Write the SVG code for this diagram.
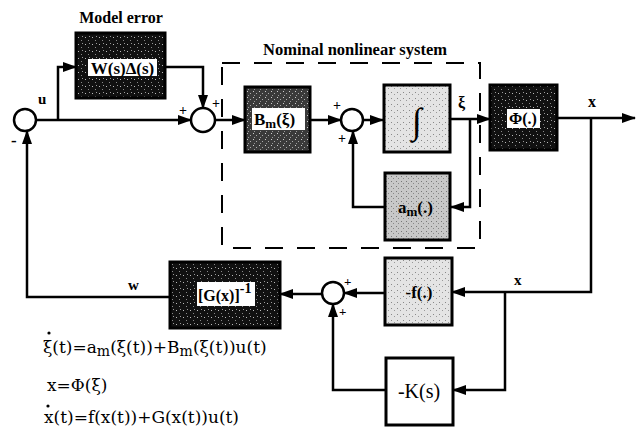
<svg xmlns="http://www.w3.org/2000/svg" width="639" height="432" viewBox="0 0 639 432">
<style>
.ln{fill:none;stroke:#000;stroke-width:2.5}
.sum{fill:#fff;stroke:#000;stroke-width:2.5}
.box{stroke:#000;stroke-width:3}
.lbl{font-family:"Liberation Serif",serif;font-weight:bold;fill:#000}
.eq{font-family:"DejaVu Serif",serif;font-size:17px;fill:#000}
.dash{fill:none;stroke:#000;stroke-width:2;stroke-dasharray:18 14}
.wb{fill:#fff}
</style>
<defs>
<marker id="ah" markerWidth="14" markerHeight="10" refX="13" refY="5" orient="auto" markerUnits="userSpaceOnUse">
<path d="M0,0 L14,5 L0,10 Z" fill="#000"/>
</marker>
<pattern id="dark" width="7" height="7" patternUnits="userSpaceOnUse">
<rect width="7" height="7" fill="#111"/>
<rect x="1" y="2" width="1" height="1" fill="#bbb"/>
<rect x="4" y="5" width="1" height="1" fill="#888"/>
<rect x="5" y="1" width="1" height="1" fill="#999"/>
</pattern>
<pattern id="mid" width="6" height="6" patternUnits="userSpaceOnUse">
<rect width="6" height="6" fill="#3a3a3a"/>
<rect x="1" y="1" width="1" height="1" fill="#ccc"/>
<rect x="4" y="3" width="1" height="1" fill="#aaa"/>
<rect x="2" y="5" width="1" height="1" fill="#999"/>
</pattern>
<pattern id="gray" width="5" height="5" patternUnits="userSpaceOnUse">
<rect width="5" height="5" fill="#c8c8c8"/>
<rect x="1" y="1" width="1" height="1" fill="#777"/>
<rect x="3" y="3" width="1" height="1" fill="#888"/>
</pattern>
<pattern id="light" width="6" height="6" patternUnits="userSpaceOnUse">
<rect width="6" height="6" fill="#e4e4e4"/>
<rect x="1" y="2" width="1" height="1" fill="#888"/>
<rect x="4" y="4" width="1" height="1" fill="#999"/>
</pattern>
</defs>
<rect width="639" height="432" fill="#fff"/>

<g id="connectors">
<path class="ln" d="M36,120 H191" marker-end="url(#ah)"/>
<path class="ln" d="M58,120 V67 H76" marker-end="url(#ah)"/>
<path class="ln" d="M165,67 H203 V108" marker-end="url(#ah)"/>
<path class="ln" d="M215,120 H245" marker-end="url(#ah)"/>
<path class="ln" d="M310,120 H341" marker-end="url(#ah)"/>
<path class="ln" d="M363,120 H383" marker-end="url(#ah)"/>
<path class="ln" d="M450,119 H490" marker-end="url(#ah)"/>
<path class="ln" d="M470,119 V207 H451" marker-end="url(#ah)"/>
<path class="ln" d="M385,207 H353 V131" marker-end="url(#ah)"/>
<path class="ln" d="M557,118 H635" marker-end="url(#ah)"/>
<path class="ln" d="M591,118 V292 H452" marker-end="url(#ah)"/>
<path class="ln" d="M505,292 V390 H453" marker-end="url(#ah)"/>
<path class="ln" d="M385,293 H344" marker-end="url(#ah)"/>
<path class="ln" d="M386,390 H333 V304" marker-end="url(#ah)"/>
<path class="ln" d="M322,294 H280" marker-end="url(#ah)"/>
<path class="ln" d="M170,297 H27 V131" marker-end="url(#ah)"/>
</g>

<g id="nominal-system">
<rect class="dash" x="222" y="63" width="258" height="185"/>
<text class="lbl" x="355" y="55" font-size="16.5" text-anchor="middle">Nominal nonlinear system</text>
</g>

<g id="sum1">
<circle class="sum" cx="25" cy="120" r="11"/>
<text class="lbl" x="38" y="104" font-size="15">u</text>
<text class="lbl" x="11" y="146" font-size="17">-</text>
</g>

<g id="model-error">
<text class="lbl" x="121" y="23" font-size="16" text-anchor="middle">Model error</text>
<rect class="box" x="76" y="33" width="89" height="65" fill="url(#dark)"/>
<rect class="wb" x="88" y="59" width="69" height="17"/>
<text class="lbl" x="122.5" y="74" font-size="17" text-anchor="middle">W(s)Δ(s)</text>
</g>

<g id="sum2">
<circle class="sum" cx="203" cy="120" r="12"/>
<text class="lbl" x="179" y="115" font-size="14">+</text>
<text class="lbl" x="212" y="108" font-size="14">+</text>
</g>

<g id="Bm">
<rect class="box" x="245" y="87" width="65" height="65" fill="url(#mid)"/>
<rect class="wb" x="252" y="108" width="53" height="22"/>
<text class="lbl" x="254" y="125" font-size="17">B<tspan font-size="13" dy="3">m</tspan><tspan dy="-3">(ξ)</tspan></text>
</g>

<g id="sum3">
<circle class="sum" cx="352" cy="120" r="11"/>
<text class="lbl" x="333" y="110" font-size="14">+</text>
<text class="lbl" x="338" y="143" font-size="14">+</text>
</g>

<g id="integrator">
<rect class="box" x="384" y="85" width="66" height="67" fill="url(#light)"/>
<text x="417" y="133" font-family="Liberation Serif,serif" font-size="36" font-weight="bold" text-anchor="middle">∫</text>
<text class="lbl" x="458" y="108" font-size="16">ξ</text>
</g>

<g id="Phi">
<rect class="box" x="490" y="85" width="67" height="65" fill="url(#dark)"/>
<rect class="wb" x="507" y="109" width="33" height="19"/>
<text class="lbl" x="509" y="124" font-size="16">Φ(.)</text>
<text class="lbl" x="588" y="107" font-size="16">x</text>
</g>

<g id="am">
<rect class="box" x="385" y="173" width="65" height="67" fill="url(#gray)"/>
<text class="lbl" x="398" y="213" font-size="17">a<tspan font-size="13" dy="3">m</tspan><tspan dy="-3">(.)</tspan></text>
</g>

<g id="minus-f">
<rect class="box" x="385" y="258" width="67" height="67" fill="url(#light)"/>
<text class="lbl" x="419" y="298" font-size="17" text-anchor="middle">-f(.)</text>
<text class="lbl" x="514" y="285" font-size="15">x</text>
</g>

<g id="minus-K">
<rect class="box" x="386" y="358" width="67" height="67" fill="#fff"/>
<text x="419" y="398" font-family="Liberation Serif,serif" font-size="20" text-anchor="middle">-K(s)</text>
</g>

<g id="sum4">
<circle class="sum" cx="333" cy="293" r="11"/>
<text class="lbl" x="344" y="286" font-size="13">+</text>
<text class="lbl" x="339" y="316" font-size="13">+</text>
</g>

<g id="Ginv">
<rect class="box" x="170" y="262" width="110" height="66" fill="url(#dark)"/>
<rect class="wb" x="197" y="282" width="58" height="24"/>
<text class="lbl" x="198" y="301" font-size="16">[G(x)]<tspan font-size="14" dy="-8">-1</tspan></text>
<text class="lbl" x="128" y="290" font-size="15">w</text>
</g>

<g id="equations">
<text class="eq" x="43" y="353">ξ(t)=a<tspan font-size="14" dy="3">m</tspan><tspan dy="-3">(ξ(t))+B</tspan><tspan font-size="14" dy="3">m</tspan><tspan dy="-3">(ξ(t))u(t)</tspan></text>
<circle cx="49" cy="333" r="1.6" fill="#000"/>
<text class="eq" x="47" y="391">x=Φ(ξ)</text>
<text class="eq" x="44" y="423">x(t)=f(x(t))+G(x(t))u(t)</text>
<circle cx="48" cy="406" r="1.6" fill="#000"/>
</g>
</svg>
